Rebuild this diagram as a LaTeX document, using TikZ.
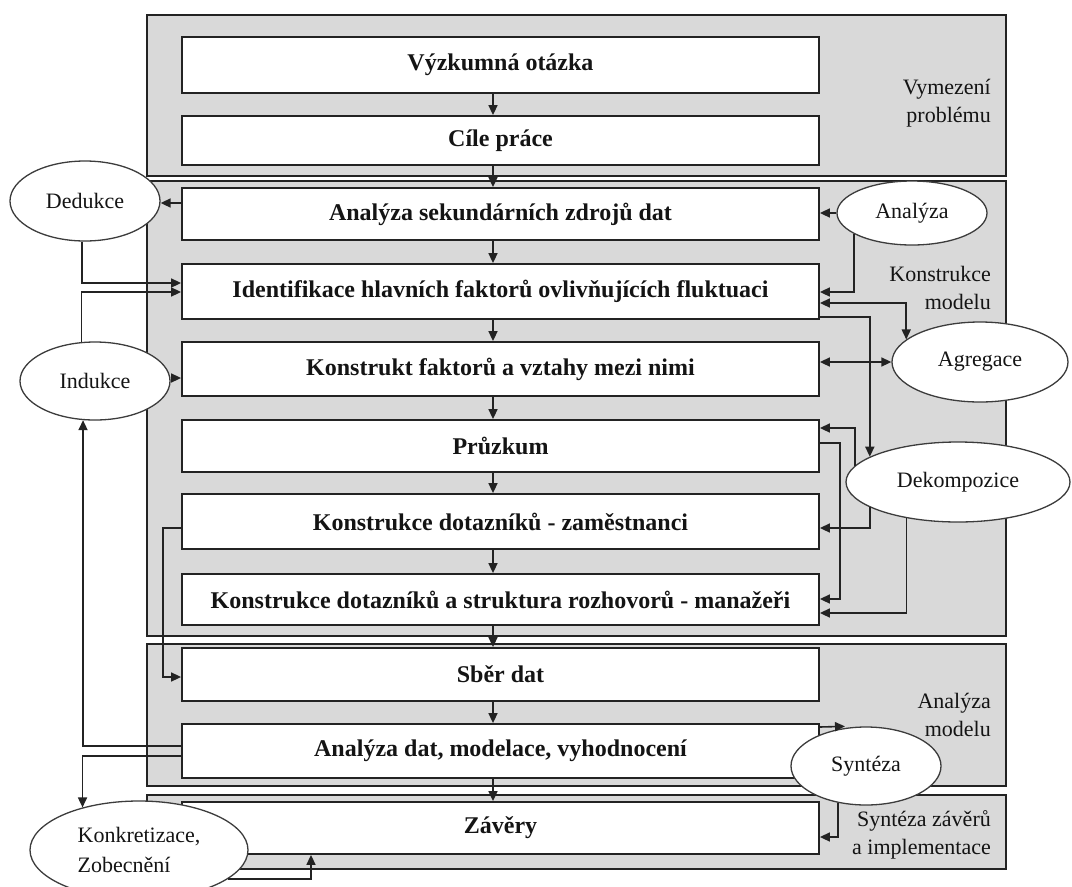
\documentclass[tikz,border=0pt]{standalone}
\usepackage{fontspec}
\setmainfont{Liberation Serif}
\usetikzlibrary{arrows.meta,shapes.geometric}
\definecolor{grayf}{RGB}{217,217,217}
\definecolor{linec}{RGB}{35,35,35}
\definecolor{ellc}{RGB}{60,60,60}
\definecolor{txtc}{RGB}{20,20,20}
\begin{document}
\begin{tikzpicture}[x=1pt,y=-1pt,
  grp/.style={draw=linec,fill=grayf,line width=1.6pt,minimum width=859pt,inner sep=0pt},
  box/.style={draw=linec,fill=white,line width=1.8pt,minimum width=637pt,inner sep=0pt,text=txtc,font=\fontsize{24}{28}\selectfont\bfseries},
  ell/.style={ellipse,draw=ellc,fill=white,line width=1.3pt,inner sep=0pt,text=txtc,font=\fontsize{22}{30}\selectfont},
  lbl/.style={anchor=east,align=right,inner sep=0pt,text=txtc,font=\fontsize{22}{28}\selectfont},
  conn/.style={draw=linec,line width=1.6pt,-{Triangle[length=10pt,width=9pt]}},
  conntwo/.style={draw=linec,line width=1.6pt,{Triangle[length=10pt,width=9pt]}-{Triangle[length=10pt,width=9pt]}}
]
\useasboundingbox (0,0) rectangle (1072,887);
% groups
\node[grp,minimum height=161pt] (g1) at (576.5,95.5) {};
\node[grp,minimum height=455pt] (g2) at (576.5,408.5) {};
\node[grp,minimum height=142pt] (g3) at (576.5,715) {};
\node[grp,minimum height=74pt] (g4) at (576.5,832) {};
% group labels
\node[lbl] (l1) at (991,103) {Vymezení\\problému};
\node[lbl] (l2) at (991,288) {Konstrukce\\modelu};
\node[lbl] (l3) at (991,715) {Analýza\\modelu};
\node[lbl] (l4) at (991,835) {Syntéza závěrů\\a implementace};
% boxes
\node[box,minimum height=56pt] (b1) at (500.5,65) {Výzkumná otázka};
\node[box,minimum height=49pt] (b2) at (500.5,140.5) {Cíle práce};
\node[box,minimum height=52pt] (b3) at (500.5,214) {Analýza sekundárních zdrojů dat};
\node[box,minimum height=55pt] (b4) at (500.5,291.5) {Identifikace hlavních faktorů ovlivňujících fluktuaci};
\node[box,minimum height=54pt] (b5) at (500.5,369) {Konstrukt faktorů a vztahy mezi nimi};
\node[box,minimum height=52pt] (b6) at (500.5,446) {Průzkum};
\node[box,minimum height=55pt] (b7) at (500.5,521.5) {Konstrukce dotazníků - zaměstnanci};
\node[box,minimum height=51pt] (b8) at (500.5,599.5) {Konstrukce dotazníků a struktura rozhovorů - manažeři};
\node[box,minimum height=53pt] (b9) at (500.5,674.5) {Sběr dat};
\node[box,minimum height=54pt] (b10) at (500.5,751) {Analýza dat, modelace, vyhodnocení};
\node[box,minimum height=52pt] (b11) at (500.5,828) {Závěry};
% ellipses
\node[ell,minimum width=150pt,minimum height=80pt] (ded) at (85,201) {Dedukce};
\node[ell,minimum width=150pt,minimum height=78pt] (ind) at (95,381) {Indukce};
\node[ell,minimum width=150pt,minimum height=64pt] (ana) at (912,213) {Analýza};
\node[ell,minimum width=176pt,minimum height=80pt] (agr) at (980,362) {Agregace};
\node[ell,minimum width=224pt,minimum height=80pt] (dek) at (958,482) {Dekompozice};
\node[ell,minimum width=150pt,minimum height=78pt] (syn) at (866,766) {Syntéza};
\node[ell,minimum width=218pt,minimum height=98pt,align=left] (kon) at (139,850) {Konkretizace,\\Zobecnění};
% main flow
\foreach \a/\b in {b1/b2,b2/b3,b3/b4,b4/b5,b5/b6,b6/b7,b7/b8,b8/b9,b9/b10,b10/b11}
  \draw[conn] (\a.south -| 493,0) -- (\b.north -| 493,0);
% left side
\draw[conn] (b3.west |- 0,203) -- (ded.east |- 0,203);
\draw[conn] (ded.266) |- (b4.west |- 0,283);
\draw[conn] (ind.109) |- (b4.west |- 0,292);
\draw[conn] (ind.east |- 0,378) -- (b5.west |- 0,378);
\draw[conn] (b10.west |- 0,746) -| (ind.253);
\draw[conn] (b10.west |- 0,756) -| (kon.143);
\draw[conn] (kon.342.5) -| (b11.south -| 311,0);
\draw[conn] (b7.west |- 0,528) -- ++(-18,0) |- (b9.west |- 0,677);
% right side
\draw[conn] (ana.west) -- (b3.east |- ana.west);
\draw[conn] (ana.200) |- (b4.east |- 0,292);
\draw[conntwo] (b4.east |- 0,303) -| (agr.163);
\draw[conn] (b4.east |- 0,317) -| (dek.164);
\draw[conntwo] (b5.east |- agr.west) -- (agr.west);
\draw[conn] (dek.171) |- (b6.east |- 0,428);
\draw[conn] (dek.196) |- (b7.east |- 0,528);
\draw[conn] (b6.east |- 0,443) -- ++(20,0) |- (b8.east |- 0,599);
\draw[conn] (dek.215) |- (b8.east |- 0,613);
\draw[conn] (b10.east |- 0,727) -- (syn.north -| 845,0);
\draw[conn] (syn.233) |- (b11.east |- 0,837);
\end{tikzpicture}
\end{document}
